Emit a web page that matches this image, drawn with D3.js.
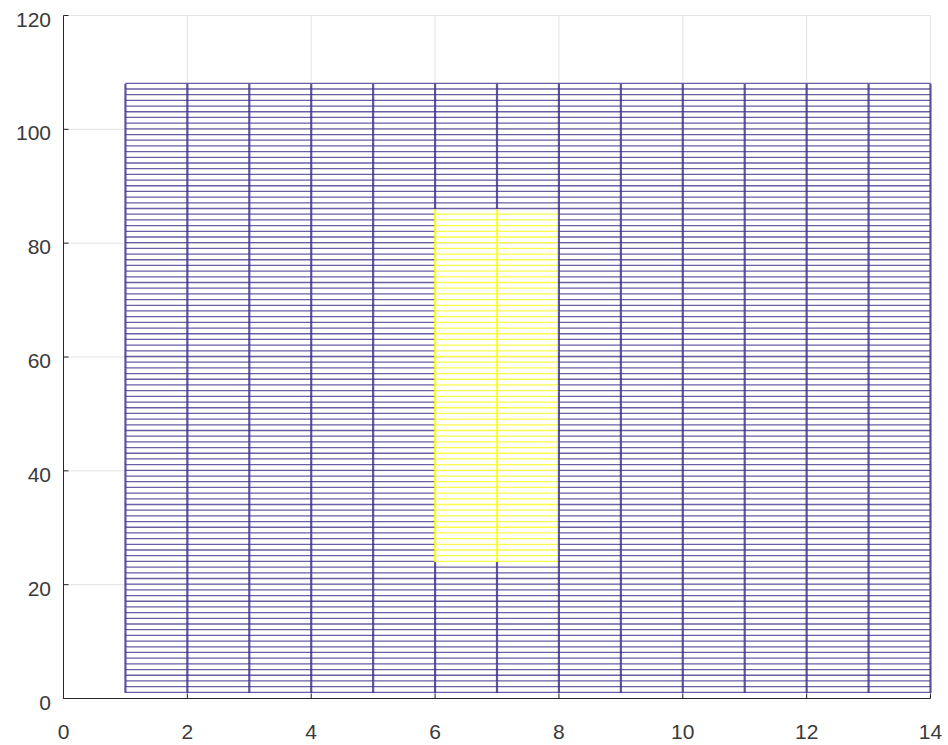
<!DOCTYPE html>
<html>
<head>
<meta charset="utf-8">
<script src="https://cdn.jsdelivr.net/npm/d3@7/dist/d3.min.js"></script>
<style>
html,body{margin:0;padding:0;background:#fff;}
text{font-family:"Liberation Sans",Arial,Helvetica,sans-serif;}
</style>
</head>
<body>
<svg id="chart" width="948" height="745"></svg>
<script>
// Mesh grid coordinates
const xGrid = [1,2,3,4,5,6,7,8,9,10,11,12,13,14];
const yGrid = [1,2,3,4,5,6,7,8,9,10,11,12,13,14,15,16,17,18,19,20,21,22,23,24,25,26,27,28,29,30,
  31,32,33,34,35,36,37,38,39,40,41,42,43,44,45,46,47,48,49,50,51,52,53,54,55,56,57,58,59,60,
  61,62,63,64,65,66,67,68,69,70,71,72,73,74,75,76,77,78,79,80,81,82,83,84,85,86,87,88,89,90,
  91,92,93,94,95,96,97,98,99,100,101,102,103,104,105,106,107,108];
// Region of raised values (z = 1), everything else z = 0
const peakX = [6, 7];
const peakY = [24, 85];
const zLevels = [0, 1];
const levelColors = ["#352A87", "#F9FB0E"];
// Axis ticks
const xTicks = [0,2,4,6,8,10,12,14];
const yTicks = [0,20,40,60,80,100,120];

const svg = d3.select("#chart");
const x = d3.scaleLinear().domain([0,14]).range([63.5,930.5]);
const y = d3.scaleLinear().domain([0,120]).range([698.5,15.5]);
const color = d3.scaleOrdinal().domain(zLevels).range(levelColors);

function z(xi, yi){
  return (peakX.includes(xi) && yi >= peakY[0] && yi <= peakY[1]) ? 1 : 0;
}

// grid
const g = svg.append("g");
g.selectAll(".gx").data(xTicks.slice(1)).join("line")
  .attr("x1", d=>x(d)).attr("x2", d=>x(d))
  .attr("y1", y(0)).attr("y2", y(120))
  .attr("stroke", "#e3e3e3").attr("stroke-width", 1);
g.selectAll(".gy").data(yTicks.slice(1)).join("line")
  .attr("y1", d=>y(d)).attr("y2", d=>y(d))
  .attr("x1", x(0)).attr("x2", x(14))
  .attr("stroke", "#e3e3e3").attr("stroke-width", 1);

// mesh segments
const hSegs = [], vSegs = [];
yGrid.forEach(yi => {
  for (let i = 0; i < xGrid.length - 1; i++) {
    hSegs.push({x0: xGrid[i], x1: xGrid[i+1], y: yi, z: z(xGrid[i], yi)});
  }
});
xGrid.forEach(xi => {
  for (let j = 0; j < yGrid.length - 1; j++) {
    vSegs.push({x: xi, y0: yGrid[j], y1: yGrid[j+1], z: z(xi, yGrid[j])});
  }
});
const mesh = svg.append("g");
mesh.selectAll(".h").data(hSegs).join("line")
  .attr("x1", d=>x(d.x0)).attr("x2", d=>x(d.x1))
  .attr("y1", d=>y(d.y)-0.5).attr("y2", d=>y(d.y)-0.5)
  .attr("stroke", d=>color(d.z)).attr("stroke-width", 1.3)
  .attr("stroke-opacity", 0.75);
mesh.selectAll(".v").data(vSegs).join("line")
  .attr("x1", d=>x(d.x)).attr("x2", d=>x(d.x))
  .attr("y1", d=>y(d.y0)).attr("y2", d=>y(d.y1))
  .attr("stroke", d=>color(d.z)).attr("stroke-width", 2.2)
  .attr("stroke-opacity", 0.8);

// axes
const axisColor = "#262626";
svg.append("line").attr("x1", x(0)).attr("x2", x(14)).attr("y1", y(0)).attr("y2", y(0))
  .attr("stroke", axisColor).attr("stroke-width", 1);
svg.append("line").attr("x1", x(0)).attr("x2", x(0)).attr("y1", y(0)).attr("y2", y(120))
  .attr("stroke", axisColor).attr("stroke-width", 1);
svg.selectAll(".xt").data(xTicks).join("line")
  .attr("x1", d=>x(d)).attr("x2", d=>x(d)).attr("y1", y(0)).attr("y2", y(0)-5)
  .attr("stroke", axisColor);
svg.selectAll(".yt").data(yTicks).join("line")
  .attr("y1", d=>y(d)).attr("y2", d=>y(d)).attr("x1", x(0)).attr("x2", x(0)+5)
  .attr("stroke", axisColor);
svg.selectAll(".xl").data(xTicks).join("text")
  .attr("x", d=>x(d)).attr("y", 739)
  .attr("text-anchor", "middle").attr("font-size", 21).attr("fill", "#3a3a3a")
  .text(d=>d);
svg.selectAll(".yl").data(yTicks).join("text")
  .attr("x", 51).attr("y", d=>y(d)+11)
  .attr("text-anchor", "end").attr("font-size", 21).attr("fill", "#3a3a3a")
  .text(d=>d);
</script>
</body>
</html>
